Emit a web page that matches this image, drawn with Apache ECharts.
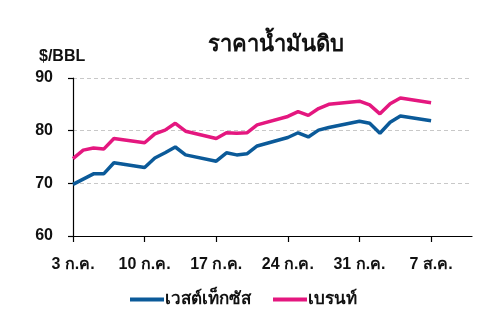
<!DOCTYPE html>
<html>
<head>
<meta charset="utf-8">
<script src="https://cdn.jsdelivr.net/npm/echarts@6/dist/echarts.min.js"></script>
<style>
  html, body { margin: 0; padding: 0; background: #fff; }
  #main { width: 487px; height: 312px; }
</style>
</head>
<body>
<div id="main"></div>
<script>
// days counted from 3 ก.ค.
var tickDays = [0, 7, 14, 21, 28, 35]
var tickLabels = ['3 ก.ค.', '10 ก.ค.', '17 ก.ค.', '24 ก.ค.', '31 ก.ค.', '7 ส.ค.']

var wtiDays = [0, 2, 3, 4, 7, 8, 9, 10, 11, 14, 15, 16, 17, 18, 21, 22, 23, 24, 25, 28, 29, 30, 31, 32, 35]
var wtiPrice = [69.8, 71.8, 71.8, 73.9, 73.0, 74.8, 75.8, 76.9, 75.4, 74.2, 75.8, 75.4, 75.6, 77.1, 78.7, 79.6, 78.8, 80.1, 80.6, 81.8, 81.4, 79.5, 81.6, 82.8, 81.9]

var brentDays = [0, 1, 2, 3, 4, 7, 8, 9, 10, 11, 14, 15, 16, 17, 18, 21, 22, 23, 24, 25, 28, 29, 30, 31, 32, 35]
var brentPrice = [74.7, 76.3, 76.7, 76.5, 78.5, 77.7, 79.4, 80.1, 81.4, 79.9, 78.5, 79.6, 79.5, 79.6, 81.1, 82.7, 83.6, 82.9, 84.2, 85.0, 85.6, 84.9, 83.2, 85.1, 86.2, 85.3]

function pairs(xs, ys) {
  return xs.map(function (x, i) { return [x, ys[i]] })
}

var font = 'Liberation Sans, Arial, sans-serif'
var myChart = echarts.init(document.getElementById('main'))

var option = {
  animation: false,
  textStyle: { fontFamily: font },
  title: [
    {
      text: 'ราคาน้ำมันดิบ',
      left: 271,
      top: 29,
      textAlign: 'center',
      textStyle: { fontSize: 22, fontWeight: 'bold', color: '#111', fontFamily: font },
    },
    {
      text: '$/BBL',
      left: 34,
      top: 44,
      textStyle: { fontSize: 16, fontWeight: 'bold', color: '#111', fontFamily: font },
    },
  ],
  legend: {
    left: 'center',
    top: 286,
    itemWidth: 34,
    itemHeight: 4,
    itemGap: 22,
    icon: 'rect',
    textStyle: { fontSize: 17, fontWeight: 'bold', color: '#111', padding: [0, 0, 0, -4] },
    data: ['เวสต์เท็กซัส', 'เบรนท์'],
  },
  grid: {
    left: 73,
    right: 15,
    top: 78,
    bottom: 76,
  },
  xAxis: {
    type: 'value',
    min: 0,
    max: 39,
    interval: 7,
    axisLine: { show: true, lineStyle: { color: '#000', width: 1.2 } },
    axisTick: { show: true, length: 6, customValues: tickDays, lineStyle: { color: '#000', width: 1.2 } },
    axisLabel: {
      customValues: tickDays,
      margin: 21,
      fontSize: 16,
      fontWeight: 'bold',
      color: '#111',
      formatter: function (v) {
        return tickLabels[tickDays.indexOf(v)]
      },
    },
    splitLine: { show: false },
  },
  yAxis: {
    type: 'value',
    min: 60,
    max: 90,
    interval: 10,
    axisLine: { show: true, lineStyle: { color: '#000', width: 1.2 } },
    axisTick: { show: true, length: 5, lineStyle: { color: '#000', width: 1.2 } },
    axisLabel: { margin: 20, fontSize: 16, fontWeight: 'bold', color: '#111' },
    splitLine: { show: true, lineStyle: { color: '#c8c8c8', type: [4, 3], width: 1 } },
  },
  series: [
    {
      name: 'เวสต์เท็กซัส',
      type: 'line',
      symbol: 'none',
      color: '#0b5a99',
      lineStyle: { width: 3.5 },
      data: pairs(wtiDays, wtiPrice),
    },
    {
      name: 'เบรนท์',
      type: 'line',
      symbol: 'none',
      color: '#e4177f',
      lineStyle: { width: 3.5 },
      data: pairs(brentDays, brentPrice),
    },
  ],
}

myChart.setOption(option)
</script>
</body>
</html>
